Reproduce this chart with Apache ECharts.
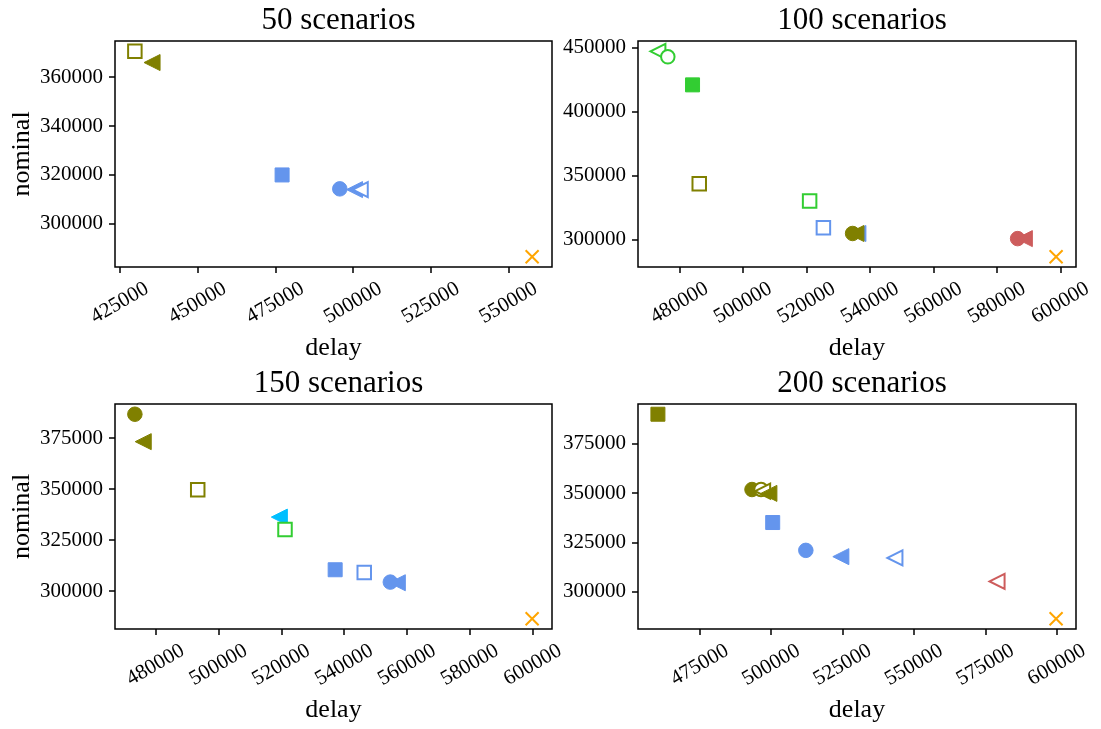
<!DOCTYPE html>
<html>
<head>
<meta charset="utf-8">
<script src="https://cdn.jsdelivr.net/npm/echarts@6/dist/echarts.min.js"></script>
<style>
  html, body { margin: 0; padding: 0; background: #fff; }
  #chart { width: 1101px; height: 729px; }
</style>
</head>
<body>
<div id="chart"></div>
<script>
// ---------------- DATA ----------------
const panelTitles = ['50 scenarios', '100 scenarios', '150 scenarios', '200 scenarios'];

// Panel: 50 scenarios
const methods50 = ['M1', 'M2', 'M3', 'M4', 'M5', 'M6', 'M7'];
const delay50   = [429840, 435370, 477190, 495740, 500490, 502330, 557600];
const nominal50 = [370610, 366000, 320000, 314300, 314000, 314000, 286530];
const xTicks50  = [425000, 450000, 475000, 500000, 525000, 550000];
const yTicks50  = [300000, 320000, 340000, 360000];

// Panel: 100 scenarios
const methods100 = ['M8', 'M9', 'M10', 'M1', 'M11', 'M12', 'M5', 'M13', 'M2', 'M14', 'M15', 'M7'];
const delay100   = [473210, 476330, 484120, 486230, 521000, 525340, 536210, 534540, 535580, 586520, 588640, 598640];
const nominal100 = [446900, 442550, 420700, 343580, 330230, 309250, 304800, 304800, 304800, 300800, 300800, 286680];
const xTicks100  = [480000, 500000, 520000, 540000, 560000, 580000, 600000];
const yTicks100  = [300000, 350000, 400000, 450000];

// Panel: 150 scenarios
const methods150 = ['M13', 'M2', 'M1', 'M17', 'M11', 'M3', 'M12', 'M4', 'M5', 'M7'];
const delay150   = [473400, 476060, 493400, 519370, 521170, 537130, 546380, 554680, 556910, 599800];
const nominal150 = [386660, 373220, 349680, 336230, 330180, 310420, 309120, 304370, 304050, 286390];
const xTicks150  = [480000, 500000, 520000, 540000, 560000, 580000, 600000];
const yTicks150  = [300000, 325000, 350000, 375000];

// Panel: 200 scenarios
const methods200 = ['M18', 'M13', 'M19', 'M20', 'M2', 'M3', 'M4', 'M5', 'M6', 'M16', 'M7'];
const delay200   = [460340, 493280, 496450, 497010, 499200, 500530, 512130, 524390, 543330, 579090, 599750];
const nominal200 = [390090, 351860, 351860, 351000, 349900, 335110, 320970, 317780, 317110, 305200, 286240];
const xTicks200  = [475000, 500000, 525000, 550000, 575000, 600000];
const yTicks200  = [300000, 325000, 350000, 375000];

// ---------------- STYLE ----------------
const OLIVE = '#808000', BLUE = '#6495ED', GREEN = '#32CD32', RED = '#CD5C5C', CYAN = '#00BFFF', ORANGE = '#FFA500';
const STYLE = {
  M1:  { shape: 'square',   color: OLIVE,  filled: false },
  M2:  { shape: 'triangle', color: OLIVE,  filled: true },
  M3:  { shape: 'square',   color: BLUE,   filled: true },
  M4:  { shape: 'circle',   color: BLUE,   filled: true },
  M5:  { shape: 'triangle', color: BLUE,   filled: true },
  M6:  { shape: 'triangle', color: BLUE,   filled: false },
  M7:  { shape: 'cross',    color: ORANGE, filled: false },
  M8:  { shape: 'triangle', color: GREEN,  filled: false },
  M9:  { shape: 'circle',   color: GREEN,  filled: false },
  M10: { shape: 'square',   color: GREEN,  filled: true },
  M11: { shape: 'square',   color: GREEN,  filled: false },
  M12: { shape: 'square',   color: BLUE,   filled: false },
  M13: { shape: 'circle',   color: OLIVE,  filled: true },
  M14: { shape: 'circle',   color: RED,    filled: true },
  M15: { shape: 'triangle', color: RED,    filled: true },
  M16: { shape: 'triangle', color: RED,    filled: false },
  M17: { shape: 'triangle', color: CYAN,   filled: true },
  M18: { shape: 'square',   color: OLIVE,  filled: true },
  M19: { shape: 'circle',   color: OLIVE,  filled: false },
  M20: { shape: 'triangle', color: OLIVE,  filled: false }
};

const FONT = 'Liberation Serif';
const panels = [
  { methods: methods50,  delay: delay50,  nominal: nominal50,  xt: xTicks50,  yt: yTicks50 },
  { methods: methods100, delay: delay100, nominal: nominal100, xt: xTicks100, yt: yTicks100 },
  { methods: methods150, delay: delay150, nominal: nominal150, xt: xTicks150, yt: yTicks150 },
  { methods: methods200, delay: delay200, nominal: nominal200, xt: xTicks200, yt: yTicks200 }
];
const gridBoxes = [
  { left: 115, top: 41,  width: 437, height: 226 },
  { left: 638, top: 41,  width: 438, height: 226 },
  { left: 115, top: 404, width: 437, height: 225 },
  { left: 638, top: 404, width: 438, height: 225 }
];

function padded(arr) {
  const lo = Math.min(...arr), hi = Math.max(...arr);
  const m = (hi - lo) * 0.05;
  return [lo - m, hi + m];
}

function symbolFor(st) {
  if (st.shape === 'cross') return { symbol: 'path://M0,0L10,10M10,0L0,10', size: 13, rotate: 0 };
  if (st.shape === 'triangle') return { symbol: 'triangle', size: st.filled ? 16 : 15, rotate: 90 };
  if (st.shape === 'square') return { symbol: 'rect', size: st.filled ? 14 : 13.5, rotate: 0 };
  return { symbol: 'circle', size: st.filled ? 14.5 : 13.5, rotate: 0 };
}

const grid = [], xAxis = [], yAxis = [], series = [], title = [];
panels.forEach((p, i) => {
  const g = gridBoxes[i];
  grid.push(Object.assign({ show: true, borderColor: '#000', borderWidth: 1.5, backgroundColor: 'transparent', containLabel: false, outerBoundsMode: 'none' }, g));
  title.push({
    text: panelTitles[i],
    left: g.left + g.width / 2,
    textAlign: 'center',
    top: i < 2 ? 0 : 363,
    textStyle: { fontFamily: FONT, fontSize: 31, fontWeight: 'normal', color: '#000' }
  });
  const xr = padded(p.delay), yr = padded(p.nominal);
  xAxis.push({
    type: 'value', gridIndex: i, min: xr[0], max: xr[1],
    name: 'delay', nameLocation: 'middle', nameGap: 68,
    nameTextStyle: { fontFamily: FONT, fontSize: 26, color: '#000', verticalAlign: 'top' },
    axisLine: { show: false },
    splitLine: { show: false },
    axisTick: { show: true, inside: false, length: 6, lineStyle: { color: '#000', width: 1.5 }, customValues: p.xt },
    axisLabel: { customValues: p.xt, rotate: 30, align: 'center', verticalAlign: 'middle', margin: 36,
      fontFamily: FONT, fontSize: 21, color: '#000', formatter: v => String(v) }
  });
  yAxis.push({
    type: 'value', gridIndex: i, min: yr[0], max: yr[1],
    name: (i % 2 === 0) ? 'nominal' : '', nameLocation: 'middle', nameGap: 80,
    nameTextStyle: { fontFamily: FONT, fontSize: 26, color: '#000' },
    axisLine: { show: false },
    splitLine: { show: false },
    axisTick: { show: true, inside: false, length: 6, lineStyle: { color: '#000', width: 1.5 }, customValues: p.yt },
    axisLabel: { customValues: p.yt, margin: 12, fontFamily: FONT, fontSize: 21, color: '#000', formatter: v => String(v) }
  });
  p.methods.forEach((m, k) => {
    const st = STYLE[m];
    const sym = symbolFor(st);
    let itemStyle;
    if (st.shape === 'cross') {
      itemStyle = { color: 'none', borderColor: st.color, borderWidth: 2, opacity: 1 };
    } else if (st.filled) {
      itemStyle = { color: st.color, borderColor: st.color, borderWidth: 1, opacity: 1 };
    } else {
      itemStyle = { color: '#fff', borderColor: st.color, borderWidth: 2, opacity: 1 };
    }
    series.push({
      type: 'scatter', xAxisIndex: i, yAxisIndex: i,
      name: m,
      symbol: sym.symbol, symbolSize: sym.size, symbolRotate: sym.rotate,
      data: [[p.delay[k], p.nominal[k]]],
      itemStyle: itemStyle,
      emphasis: { disabled: true },
      z: 2
    });
  });
});

const chart = echarts.init(document.getElementById('chart'), null, { renderer: 'canvas' });
chart.setOption({
  animation: false,
  backgroundColor: '#fff',
  title: title,
  grid: grid,
  xAxis: xAxis,
  yAxis: yAxis,
  series: series
});
</script>
</body>
</html>
